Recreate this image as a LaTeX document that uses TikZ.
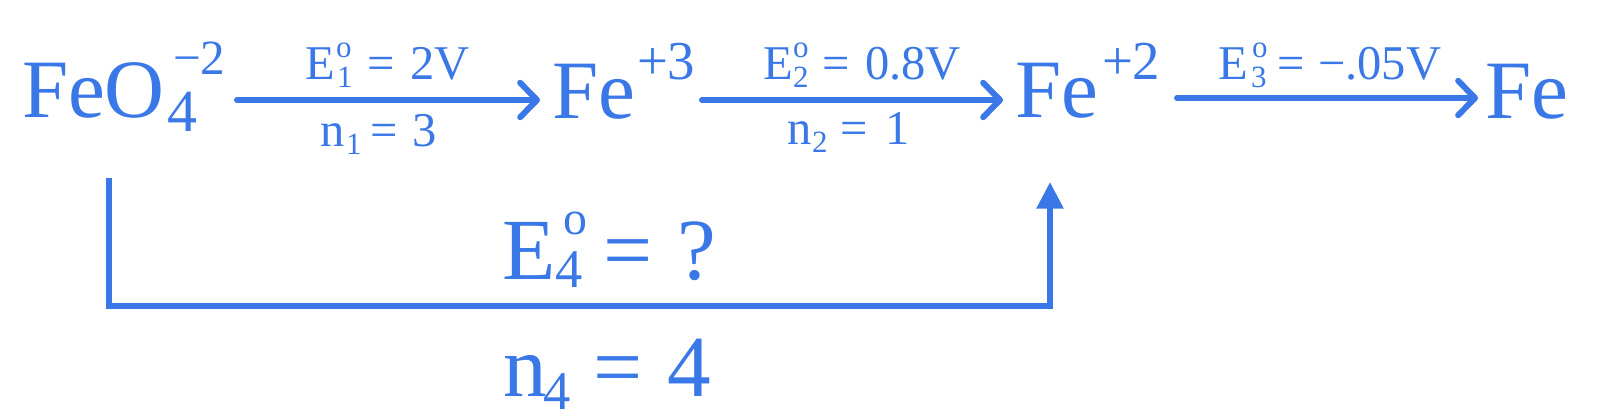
\documentclass[tikz,border=0pt]{standalone}
\usepackage{fontspec}
\setmainfont{Liberation Serif}
\usetikzlibrary{arrows.meta}
\definecolor{ink}{RGB}{59,120,231}
\begin{document}
\begin{tikzpicture}[x=0.01cm,y=-0.01cm,
  txt/.style={anchor=base west,inner sep=0pt,outer sep=0pt,text=ink},
  big/.style={txt,font=\fontsize{23.6pt}{28pt}\selectfont},
  chg/.style={txt,font=\fontsize{15.6pt}{18pt}\selectfont},
  fsub/.style={txt,font=\fontsize{17pt}{20pt}\selectfont},
  fsup/.style={txt,font=\fontsize{14pt}{16pt}\selectfont},
  lab/.style={txt,font=\fontsize{13.8pt}{16pt}\selectfont},
  small/.style={txt,font=\fontsize{8.8pt}{10pt}\selectfont},
  large/.style={txt,font=\fontsize{24.8pt}{30pt}\selectfont},
  lsup/.style={txt,font=\fontsize{13.6pt}{16pt}\selectfont},
  lsub/.style={txt,font=\fontsize{15.5pt}{18pt}\selectfont},
  rxn/.style={draw=ink,line width=1.7pt,line cap=round,
    -{Straight Barb[length=4.8pt,width=9.8pt,line cap=round,line join=round]}},
  loopline/.style={draw=ink,line width=1.6pt,line join=miter,
    -{Triangle[length=7.6pt,width=7.4pt]}}
]
\fill[white] (0,0) rectangle (1600,419);
\useasboundingbox (0,0) rectangle (1600,419);

% species
\node[big]  (feo)   at (22,118)  {FeO};
\node[fsub] (feos)  at (167,132) {4};
\node[fsup] (feoc)  at (173,75)  {−2};
\node[big]  (fe3)   at (552,119) {Fe};
\node[chg]  (fe3c)  at (637,80)  {+3};
\node[big]  (fe2)   at (1015,118){Fe};
\node[chg]  (fe2c)  at (1102,80) {+2};
\node[big]  (fe)    at (1485,119){Fe};

% arrow 1 labels
\node[lab]   (e1)   at (305,80)  {E};
\node[small] (e1o)  at (336,58)  {o};
\node[small] (e1s)  at (337,88)  {1};
\node[lab]   (e1eq) at (367,80)  {=};
\node[lab]   (e1v)  at (410,80)  {2V};
\node[lab]   (n1)   at (320,147) {n};
\node[small] (n1s)  at (346,155) {1};
\node[lab]   (n1eq) at (370,147) {=};
\node[lab]   (n1v)  at (412,147) {3};

% arrow 2 labels
\node[lab]   (e2)   at (763,80)  {E};
\node[small] (e2o)  at (793,58)  {o};
\node[small] (e2s)  at (793,88)  {2};
\node[lab]   (e2eq) at (822,80)  {=};
\node[lab]   (e2v)  at (865,80)  {0.8V};
\node[lab]   (n2)   at (787,145) {n};
\node[small] (n2s)  at (812,153) {2};
\node[lab]   (n2eq) at (840,145) {=};
\node[lab]   (n2v)  at (885,145) {1};

% arrow 3 labels
\node[lab]   (e3)   at (1218,80) {E};
\node[small] (e3o)  at (1252,58) {o};
\node[small] (e3s)  at (1251,88) {3};
\node[lab]   (e3eq) at (1277,80) {=};
\node[lab]   (e3v)  at (1318,80) {−.05V};

% overall labels
\node[large] (e4)   at (502,280) {E};
\node[lsup]  (e4o)  at (563,235) {o};
\node[lsub]  (e4s)  at (555,288) {4};
\node[large] (e4eq) at (603,280) {=};
\node[large] (e4v)  at (677,280) {?};
\node[large] (n4)   at (503,397) {n};
\node[lsub]  (n4s)  at (543,410) {4};
\node[large] (n4eq) at (593,397) {=};
\node[large] (n4v)  at (667,397) {4};

% connectors
\coordinate (a1s) at (237,100);
\coordinate (a1e) at (540,100);
\coordinate (a2s) at (702,100);
\coordinate (a2e) at (1003,100);
\coordinate (a3s) at (1177,98);
\coordinate (a3e) at (1478,98);
\draw[rxn] (a1s) -- (a1e);
\draw[rxn] (a2s) -- (a2e);
\draw[rxn] (a3s) -- (a3e);

\coordinate (ls) at (109,178);
\coordinate (lc1) at (109,306);
\coordinate (lc2) at (1050,306);
\coordinate (le) at (1050,182);
\draw[loopline] (ls) -- (lc1) -- (lc2) -- (le);
\end{tikzpicture}
\end{document}
